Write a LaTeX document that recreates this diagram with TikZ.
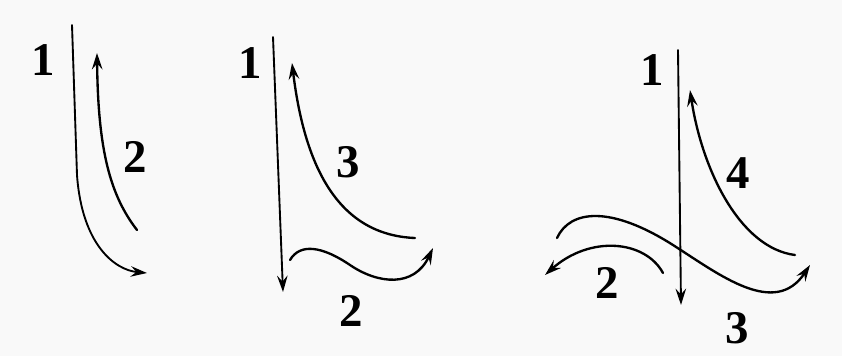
\documentclass[tikz,border=0pt]{standalone}
\usepackage{fontspec}
\setmainfont{Liberation Serif}
\usetikzlibrary{arrows.meta}

\begin{document}
\begin{tikzpicture}[x=0.03cm, y=-0.03cm,
    stroke/.style={line width=2pt, line cap=round},
    ictus/.style={line width=1.6pt, line cap=round},
    tip/.style={-{Stealth[length=14pt, width=9pt, inset=5pt]}},
    num/.style={font=\fontsize{40}{40}\selectfont\bfseries, inner sep=0pt}]
  % sheet
  \fill[gray!5] (0,0) rectangle (842,356);
  \useasboundingbox (0,0) rectangle (842,356);

  % two beats
  \coordinate (a1s) at (72,25);
  \coordinate (a1e) at (147,273);
  \coordinate (a2s) at (137,230);
  \coordinate (a2e) at (97,53);
  \draw[ictus, tip] (a1s) -- (77,175) .. controls (82,245) and (115,270) .. (a1e);
  \draw[stroke, tip] (a2s) .. controls (110,195) and (98,150) .. (a2e);
  \node[num] (a1) at (43,60) {1};
  \node[num] (a2) at (135,157) {2};

  % three beats
  \coordinate (b1s) at (273,37);
  \coordinate (b1e) at (283,292);
  \coordinate (b2s) at (290,260);
  \coordinate (b2e) at (433,248);
  \coordinate (b3s) at (415,238);
  \coordinate (b3e) at (292,63);
  \draw[ictus, tip] (b1s) -- (b1e);
  \draw[stroke, tip] (b2s) .. controls (300,243) and (322,246) .. (350,265)
                           .. controls (378,284) and (414,288) .. (b2e);
  \draw[stroke, tip] (b3s) .. controls (340,235) and (305,170) .. (b3e);
  \node[num] (b1) at (250,63) {1};
  \node[num] (b3) at (348,162) {3};
  \node[num] (b2) at (351,311) {2};

  % four beats
  \coordinate (c1s) at (678,50);
  \coordinate (c1e) at (681,305);
  \coordinate (c2s) at (663,273);
  \coordinate (c2e) at (545,275);
  \coordinate (c3s) at (557,238);
  \coordinate (c3e) at (810,265);
  \coordinate (c4s) at (795,255);
  \coordinate (c4e) at (690,90);
  \draw[ictus, tip] (c1s) -- (c1e);
  \draw[stroke, tip] (c2s) .. controls (645,240) and (590,235) .. (c2e);
  \draw[stroke, tip] (c3s) .. controls (570,210) and (610,205) .. (673,245)
                           .. controls (720,275) and (775,318) .. (c3e);
  \draw[stroke, tip] (c4s) .. controls (740,248) and (702,170) .. (c4e);
  \node[num] (c1) at (652,70) {1};
  \node[num] (c4) at (738,173) {4};
  \node[num] (c2) at (607,283) {2};
  \node[num] (c3) at (737,328) {3};
\end{tikzpicture}
\end{document}
